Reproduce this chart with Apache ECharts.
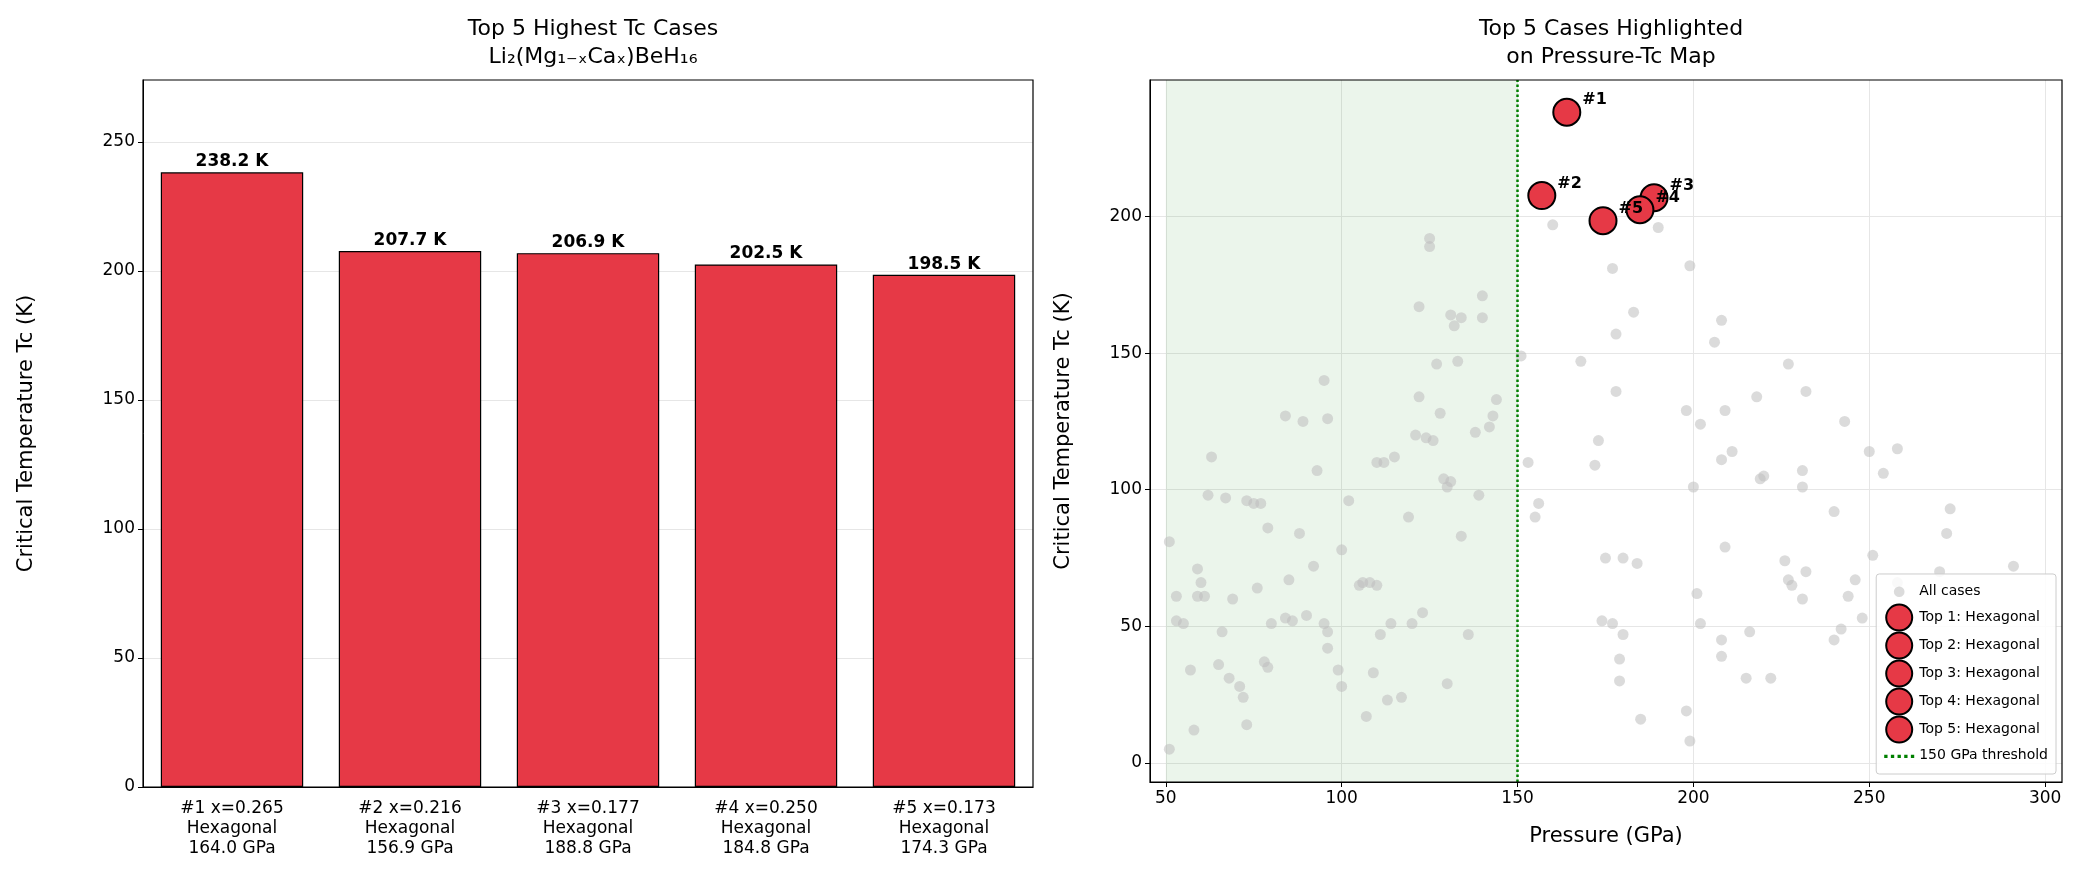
<!DOCTYPE html>
<html><head><meta charset="utf-8">
<script src="https://cdn.jsdelivr.net/npm/echarts@6/dist/echarts.min.js"></script>
<style>html,body{margin:0;padding:0;background:#fff}#c{width:2078px;height:878px}</style>
</head><body><div id="c"></div>
<script>
const barCategories = ['#1 x=0.265\nHexagonal\n164.0 GPa','#2 x=0.216\nHexagonal\n156.9 GPa','#3 x=0.177\nHexagonal\n188.8 GPa','#4 x=0.250\nHexagonal\n184.8 GPa','#5 x=0.173\nHexagonal\n174.3 GPa'];
const barValues = [238.2, 207.7, 206.9, 202.5, 198.5];
const topPressure = [164.0, 156.9, 188.8, 184.8, 174.3];
const topTc = [238.2, 207.7, 206.9, 202.5, 198.5];
const topNames = ['Top 1: Hexagonal','Top 2: Hexagonal','Top 3: Hexagonal','Top 4: Hexagonal','Top 5: Hexagonal'];
const allPressure = [51,51,53,53,55,57,58,59,59,60,61,62,63,65,66,67,68,69,71,72,73,73,75,76,77,78,79,79,80,84,84,85,86,88,89,90,92,93,95,95,96,96,96,99,100,100,102,105,106,107,108,109,110,110,111,112,113,114,115,117,119,120,121,122,122,123,124,125,125,126,127,128,129,130,130,131,131,132,133,134,134,136,138,139,140,140,142,143,144,
151,153,155,156,160,168,172,173,174,175,177,177,178,178,179,179,180,180,183,184,185,190,198,198,199,199,200,201,202,202,206,208,208,208,208,209,209,211,215,216,218,219,220,222,226,227,227,228,231,231,231,232,232,240,240,242,243,244,246,248,250,251,254,258,258,270,272,273,291];
const allTc = [81,5,61,52,51,34,12,71,61,66,61,98,112,36,48,97,31,60,28,24,14,96,95,64,95,37,35,86,51,53,127,67,52,84,125,54,72,107,140,51,48,42,126,34,28,78,96,65,66,17,66,33,65,110,47,110,23,51,112,24,90,51,120,134,167,55,119,192,189,118,146,128,104,29,101,164,103,160,147,163,83,47,121,98,171,163,123,127,133,
149,110,90,95,197,147,109,118,52,75,51,181,136,157,38,30,75,47,165,73,16,196,129,19,8,182,101,62,51,124,154,111,162,45,39,129,79,114,31,48,134,104,105,31,74,146,67,65,60,107,101,136,70,92,45,49,125,61,67,53,114,76,106,115,66,70,84,93,72];
const barTicks = [0,50,100,150,200,250];
const xTicks = [50,100,150,200,250,300];
const yTicks = [0,50,100,150,200];

const F = 'DejaVu Sans';
const allData = allPressure.map((p,i)=>[p, allTc[i]]);
const series = [
 {type:'bar', xAxisIndex:0, yAxisIndex:0, data:barValues, barWidth:'80%',
  itemStyle:{color:'#e63946', borderColor:'#000', borderWidth:1.2},
  label:{show:true, position:'top', formatter:p=>p.value.toFixed(1)+' K', fontFamily:F, fontWeight:'bold', fontSize:17, color:'#000', distance:2}},
 {type:'scatter', name:'All cases', xAxisIndex:1, yAxisIndex:1, data:allData, symbolSize:11,
  itemStyle:{color:'rgba(190,190,190,0.55)', opacity:1}, z:2,
  markArea:{silent:true, itemStyle:{color:'rgba(0,128,0,0.08)'}, data:[[{xAxis:50},{xAxis:150}]]}}
];
topNames.forEach((n,i)=>{
 series.push({type:'scatter', name:n, xAxisIndex:1, yAxisIndex:1, data:[[topPressure[i], topTc[i]]], symbolSize:27, z:5,
  itemStyle:{color:'#e63946', borderColor:'#000', borderWidth:2, opacity:1},
  label:{show:true, formatter:'#'+(i+1), position:'right', offset:[-4,-12], fontFamily:F, fontWeight:'bold', fontSize:16, color:'#000'}});
});
series.push({type:'line', name:'150 GPa threshold', xAxisIndex:1, yAxisIndex:1, data:[], symbol:'none',
  itemStyle:{color:'green'}, lineStyle:{color:'green', type:'dotted', width:2.5},
  markLine:{silent:true, symbol:'none', label:{show:false}, lineStyle:{color:'green', type:'dotted', width:2.5}, data:[{xAxis:150}]}});

const dots = 'path://M0,10h3v3h-3z M6,10h3v3h-3z M12,10h3v3h-3z M18,10h3v3h-3z M24,10h3v3h-3z M0,0h0.01v0.01h-0.01z M0,22h0.01v0.01h-0.01z';
const smallCircle = 'path://M0,0h0.01v0.01h-0.01z M28,22h0.01v0.01h-0.01z M14,6a5,5 0 1,0 0.001,0z';
const opt = {
 animation:false,
 textStyle:{fontFamily:F},
 title:[
  {text:'Top 5 Highest Tc Cases\nLi₂(Mg₁₋ₓCaₓ)BeH₁₆', left:588, top:10, textAlign:'center', textStyle:{fontFamily:F, fontSize:22, fontWeight:'normal', lineHeight:28, color:'#000'}},
  {text:'Top 5 Cases Highlighted\non Pressure-Tc Map', left:1606, top:10, textAlign:'center', textStyle:{fontFamily:F, fontSize:22, fontWeight:'normal', lineHeight:28, color:'#000'}}
 ],
 legend:{data:[{name:'All cases', icon:smallCircle}, ...topNames.map(n=>({name:n, icon:'circle'})), {name:'150 GPa threshold', icon:dots}],
  orient:'vertical', right:22, bottom:104, itemWidth:30, itemHeight:26, itemGap:0,
  textStyle:{fontFamily:F, fontSize:14, color:'#000'}, backgroundColor:'rgba(255,255,255,0.85)', borderColor:'#ccc', borderWidth:1, borderRadius:3, padding:[6,8]},
 grid:[{left:143, right:1045, top:80, bottom:91}, {left:1150, right:16, top:80, bottom:96}],
 xAxis:[
  {type:'category', gridIndex:0, data:barCategories, axisLine:{lineStyle:{color:'#000'}}, axisTick:{alignWithLabel:true, lineStyle:{color:'#000'}},
   axisLabel:{fontFamily:F, fontSize:17, color:'#000', lineHeight:20, margin:12}},
  {type:'value', gridIndex:1, min:45.5, max:304.8, name:'Pressure (GPa)', nameLocation:'middle', nameGap:44, nameTextStyle:{fontFamily:F, fontSize:21, color:'#000'},
   axisLine:{onZero:false, lineStyle:{color:'#000'}}, axisTick:{customValues:xTicks, lineStyle:{color:'#000'}}, axisLabel:{customValues:xTicks, fontFamily:F, fontSize:17, color:'#000'},
   splitLine:{show:true, lineStyle:{color:'#e6e6e6'}}}
 ],
 yAxis:[
  {type:'value', gridIndex:0, min:0, max:274, name:'Critical Temperature Tc (K)', nameLocation:'middle', nameGap:106, nameTextStyle:{fontFamily:F, fontSize:21, color:'#000'},
   axisLine:{show:true, lineStyle:{color:'#000'}}, axisTick:{show:true, customValues:barTicks, lineStyle:{color:'#000'}}, axisLabel:{customValues:barTicks, fontFamily:F, fontSize:17, color:'#000'},
   splitLine:{show:true, lineStyle:{color:'#e6e6e6'}}},
  {type:'value', gridIndex:1, min:-7, max:250, name:'Critical Temperature Tc (K)', nameLocation:'middle', nameGap:76, nameTextStyle:{fontFamily:F, fontSize:21, color:'#000'},
   axisLine:{show:true, onZero:false, lineStyle:{color:'#000'}}, axisTick:{show:true, customValues:yTicks, lineStyle:{color:'#000'}}, axisLabel:{customValues:yTicks, fontFamily:F, fontSize:17, color:'#000'},
   splitLine:{show:true, lineStyle:{color:'#e6e6e6'}}}
 ],
 series
};
const ch = echarts.init(document.getElementById('c'));
ch.setOption(opt);
ch.setOption({graphic:[
 {type:'rect', shape:{x:143,y:80,width:890,height:707}, style:{fill:null, stroke:'#000', lineWidth:1.2}, silent:true, z:100},
 {type:'rect', shape:{x:1150,y:80,width:912,height:702}, style:{fill:null, stroke:'#000', lineWidth:1.2}, silent:true, z:100}
]});
</script></body></html>
